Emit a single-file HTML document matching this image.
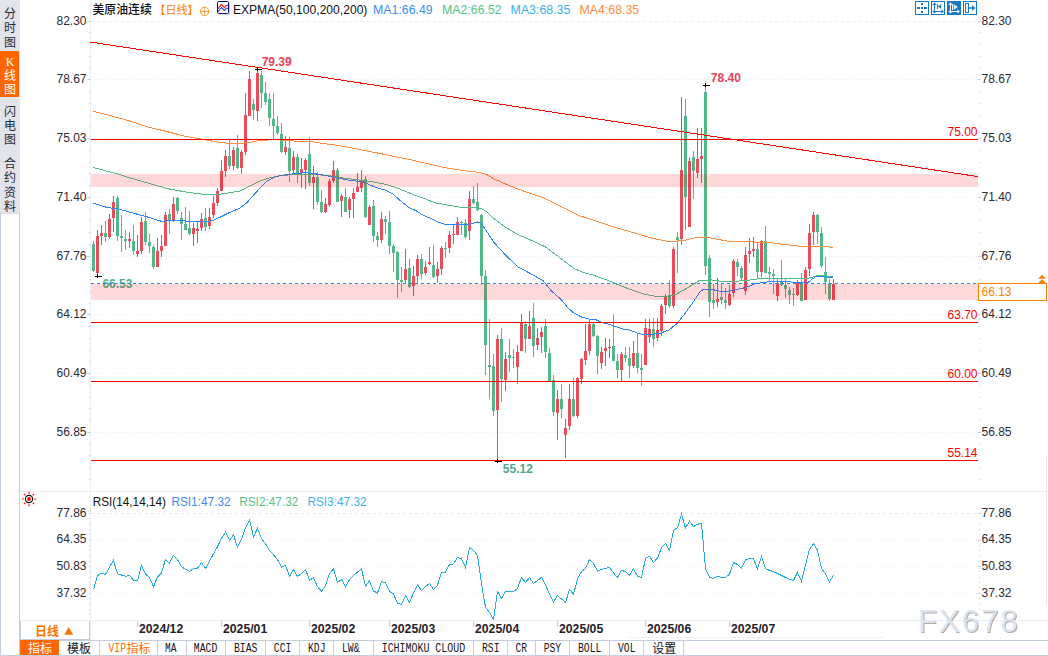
<!DOCTYPE html>
<html lang="zh"><head><meta charset="utf-8"><title>美原油连续 日线 K线图</title>
<style>
html,body{margin:0;padding:0;background:#fff}
body{width:1048px;height:656px;overflow:hidden;position:relative;font-family:"Liberation Sans",sans-serif;font-size:12px;color:#2b2b33}
#side{position:absolute;left:0;top:0;width:20px;height:213px;background:#e2e4ec}
#side .on{position:absolute;left:0;top:51px;width:19px;height:46px;background:#ff6600}
#side .sep{position:absolute;left:0;width:20px;height:1px;background:#dceaf8}
#sidebox{position:absolute;left:0;top:213px;width:18px;height:441px;border:1px solid #c3cede;border-top-color:#d8dee8;background:#fff;box-sizing:content-box}
#period{position:absolute;left:20px;top:620px;width:68px;height:18px;border:1px solid #c3cede;background:#fff;box-sizing:content-box}
#tabs{position:absolute;left:20px;top:640px;width:1028px;height:16px;border-top:1px solid #c3cede;border-bottom:1px solid #c3cede;box-sizing:border-box;background:#fff}
#tabs i{position:absolute;top:0;width:1px;height:15px;background:#c3cede}
#tabs b{position:absolute;left:0;top:-1px;width:39px;height:15px;background:#ff6600}
#chart{position:absolute;left:0;top:0}
text{font-family:"Liberation Sans",sans-serif;font-size:12px}
.ax{fill:#2b2b33}
.mono{font-family:"Liberation Mono",monospace;font-size:13px;fill:#15151c}
.bd{font-weight:bold}
.cjk{font-family:"Liberation Sans","Noto Sans CJK SC",sans-serif;font-size:12px}
</style></head><body>
<div id="side"><div class="on"></div><div class="sep" style="top:50px"></div><div class="sep" style="top:97px"></div><div class="sep" style="top:149px"></div></div>
<div id="sidebox"></div>
<div id="period"></div>
<div id="tabs"><b></b><i style="left:79px"></i><i style="left:137px"></i><i style="left:166px"></i><i style="left:205px"></i><i style="left:245px"></i><i style="left:279px"></i><i style="left:313px"></i><i style="left:353px"></i><i style="left:453px"></i><i style="left:487px"></i><i style="left:515px"></i><i style="left:549px"></i><i style="left:589px"></i><i style="left:623px"></i><i style="left:663px"></i></div>
<svg id="chart" width="1048" height="656" viewBox="0 0 1048 656">
<g shape-rendering="crispEdges" fill="none">
<path stroke="#ebeff5" d="M90.5 0V640"/>
<path stroke="#ebeff5" d="M20 491.5H1048M20 620.5H1048"/>
<path stroke="#e6ebf2" d="M1046.5 455V606"/>
<path stroke="#eef1f6" d="M629 637.5H884"/>
<path stroke="#e8ecf2" stroke-dasharray="1 2" d="M91 79.5H978M91 138.5H978M91 197.5H978M91 256.5H978M91 314.5H978M91 373.5H978M91 432.5H978"/>
<path stroke="#e8ecf2" stroke-dasharray="1 2" d="M91 539.5H978M91 566.5H978M91 593.5H978"/>
<path stroke="#e8ecf2" stroke-dasharray="3 3" d="M91 21.5H978M91 513.5H978"/>
<path stroke="#c5cedb" d="M89 32.5H90M89 44.5H90M89 56.5H90M89 68.5H90M89 91.5H90M89 103.5H90M89 115.5H90M89 126.5H90M89 150.5H90M89 162.5H90M89 173.5H90M89 185.5H90M89 209.5H90M89 220.5H90M89 232.5H90M89 244.5H90M89 267.5H90M89 279.5H90M89 291.5H90M89 303.5H90M89 326.5H90M89 338.5H90M89 350.5H90M89 361.5H90M89 385.5H90M89 397.5H90M89 408.5H90M89 420.5H90M89 444.5H90M89 455.5H90M89 467.5H90M89 479.5H90M89 518.5H90M89 523.5H90M89 529.5H90M89 534.5H90M89 545.5H90M89 550.5H90M89 555.5H90M89 561.5H90M89 571.5H90M89 577.5H90M89 582.5H90M89 587.5H90M89 598.5H90M89 603.5H90M89 609.5H90M89 614.5H90M87 21.5H90M87 79.5H90M87 138.5H90M87 197.5H90M87 256.5H90M87 314.5H90M87 373.5H90M87 432.5H90M89 513.5H90M89 540.5H90M89 566.5H90M89 593.5H90M979 32.5H980M979 44.5H980M979 56.5H980M979 68.5H980M979 91.5H980M979 103.5H980M979 115.5H980M979 126.5H980M979 150.5H980M979 162.5H980M979 173.5H980M979 185.5H980M979 209.5H980M979 220.5H980M979 232.5H980M979 244.5H980M979 267.5H980M979 279.5H980M979 291.5H980M979 303.5H980M979 326.5H980M979 338.5H980M979 350.5H980M979 361.5H980M979 385.5H980M979 397.5H980M979 408.5H980M979 420.5H980M979 444.5H980M979 455.5H980M979 467.5H980M979 479.5H980M979 518.5H980M979 523.5H980M979 529.5H980M979 534.5H980M979 545.5H980M979 550.5H980M979 555.5H980M979 561.5H980M979 571.5H980M979 577.5H980M979 582.5H980M979 587.5H980M979 598.5H980M979 603.5H980M979 609.5H980M979 614.5H980M978 21.5H981M978 79.5H981M978 138.5H981M978 197.5H981M978 256.5H981M978 314.5H981M978 373.5H981M978 432.5H981M978 513.5H981M978 540.5H981M978 566.5H981M978 593.5H981"/>
<path stroke="#c5cedb" d="M137.5 621V627M221.5 621V627M309.5 621V627M389.5 621V627M473.5 621V627M557.5 621V627M645.5 621V627M729.5 621V627"/>
</g>
<g shape-rendering="crispEdges">
<path fill="#ea4b5d" d="M96 236h3v37h-3zM97 230h1v6h-1zM97 273h1v1h-1zM100 233h3v3h-3zM101 225h1v8h-1zM101 236h1v9h-1zM108 219h3v18h-3zM109 214h1v5h-1zM109 237h1v2h-1zM112 202h3v16h-3zM113 196h1v6h-1zM113 218h1v14h-1zM128 239h3v2h-3zM129 232h1v7h-1zM129 241h1v7h-1zM136 251h3v3h-3zM137 235h1v16h-1zM137 254h1v3h-1zM140 222h3v29h-3zM141 217h1v5h-1zM141 251h1v3h-1zM156 251h3v16h-3zM157 238h1v13h-1zM160 246h3v5h-3zM161 235h1v11h-1zM161 251h1v6h-1zM164 215h3v31h-3zM165 212h1v3h-1zM172 204h3v16h-3zM173 197h1v7h-1zM173 220h1v2h-1zM192 228h3v6h-3zM193 223h1v5h-1zM193 234h1v12h-1zM196 229h3v2h-3zM197 222h1v7h-1zM197 231h1v12h-1zM200 219h3v9h-3zM201 213h1v6h-1zM201 228h1v3h-1zM208 217h3v9h-3zM209 208h1v9h-1zM209 226h1v3h-1zM212 203h3v12h-3zM213 196h1v7h-1zM213 215h1v3h-1zM216 191h3v12h-3zM217 188h1v3h-1zM217 203h1v3h-1zM220 171h3v20h-3zM221 160h1v11h-1zM224 156h3v15h-3zM225 150h1v6h-1zM225 171h1v6h-1zM232 150h3v16h-3zM233 147h1v3h-1zM233 166h1v4h-1zM240 152h3v16h-3zM241 150h1v2h-1zM241 168h1v6h-1zM244 115h3v37h-3zM245 93h1v22h-1zM245 152h1v3h-1zM248 79h3v37h-3zM249 71h1v8h-1zM256 73h3v38h-3zM257 68h1v5h-1zM257 111h1v10h-1zM284 147h3v5h-3zM285 136h1v11h-1zM285 152h1v3h-1zM292 157h3v13h-3zM293 151h1v6h-1zM293 170h1v3h-1zM300 169h3v4h-3zM301 158h1v11h-1zM301 173h1v15h-1zM304 160h3v10h-3zM305 158h1v2h-1zM305 170h1v19h-1zM312 177h3v6h-3zM313 166h1v11h-1zM313 183h1v26h-1zM324 204h3v8h-3zM325 198h1v6h-1zM325 212h1v1h-1zM328 181h3v24h-3zM329 179h1v2h-1zM329 205h1v2h-1zM332 170h3v11h-3zM333 161h1v9h-1zM333 181h1v2h-1zM340 196h3v5h-3zM341 194h1v2h-1zM341 201h1v16h-1zM348 199h3v11h-3zM349 197h1v2h-1zM349 210h1v8h-1zM352 193h3v6h-3zM353 188h1v5h-1zM353 199h1v19h-1zM356 187h3v5h-3zM357 173h1v14h-1zM360 180h3v8h-3zM361 170h1v10h-1zM361 188h1v4h-1zM368 207h3v18h-3zM369 205h1v2h-1zM380 219h3v21h-3zM381 212h1v7h-1zM381 240h1v3h-1zM404 269h3v11h-3zM405 249h1v20h-1zM405 280h1v3h-1zM412 276h3v10h-3zM413 266h1v10h-1zM413 286h1v10h-1zM416 259h3v17h-3zM417 255h1v4h-1zM417 276h1v7h-1zM424 267h3v6h-3zM425 261h1v6h-1zM425 273h1v2h-1zM428 262h3v2h-3zM429 247h1v15h-1zM429 264h1v1h-1zM436 269h3v7h-3zM437 262h1v7h-1zM437 276h1v7h-1zM440 248h3v21h-3zM441 246h1v2h-1zM441 269h1v6h-1zM448 235h3v13h-3zM449 231h1v4h-1zM449 248h1v5h-1zM452 234h3v1h-3zM453 224h1v10h-1zM453 235h1v9h-1zM456 222h3v13h-3zM457 217h1v5h-1zM468 199h3v32h-3zM469 191h1v8h-1zM469 231h1v9h-1zM496 339h3v71h-3zM497 335h1v4h-1zM497 410h1v50h-1zM504 359h3v21h-3zM505 352h1v7h-1zM505 380h1v11h-1zM516 352h3v15h-3zM517 345h1v7h-1zM517 367h1v17h-1zM520 323h3v28h-3zM521 314h1v9h-1zM528 326h3v13h-3zM529 311h1v15h-1zM536 338h3v7h-3zM537 328h1v10h-1zM537 345h1v5h-1zM540 332h3v5h-3zM541 327h1v5h-1zM541 337h1v16h-1zM556 399h3v14h-3zM557 390h1v9h-1zM557 413h1v27h-1zM564 428h3v7h-3zM565 419h1v9h-1zM565 435h1v23h-1zM568 399h3v27h-3zM569 384h1v15h-1zM569 426h1v4h-1zM576 378h3v38h-3zM577 377h1v1h-1zM577 416h1v2h-1zM580 359h3v20h-3zM581 358h1v1h-1zM581 379h1v5h-1zM584 351h3v9h-3zM585 324h1v27h-1zM585 360h1v5h-1zM588 324h3v27h-3zM589 319h1v5h-1zM589 351h1v4h-1zM600 352h3v11h-3zM601 347h1v5h-1zM601 363h1v6h-1zM604 348h3v3h-3zM605 338h1v10h-1zM605 351h1v15h-1zM608 347h3v1h-3zM609 339h1v8h-1zM609 348h1v10h-1zM620 354h3v16h-3zM621 352h1v2h-1zM621 370h1v11h-1zM632 353h3v13h-3zM633 341h1v12h-1zM633 366h1v2h-1zM644 328h3v37h-3zM645 319h1v9h-1zM648 329h3v8h-3zM649 319h1v10h-1zM649 337h1v6h-1zM656 330h3v8h-3zM657 318h1v12h-1zM657 338h1v3h-1zM660 306h3v25h-3zM661 304h1v2h-1zM661 331h1v5h-1zM664 297h3v8h-3zM665 294h1v3h-1zM665 305h1v9h-1zM672 249h3v57h-3zM673 247h1v2h-1zM673 306h1v2h-1zM680 170h3v69h-3zM681 97h1v73h-1zM681 239h1v6h-1zM688 161h3v66h-3zM689 157h1v4h-1zM696 159h3v14h-3zM697 128h1v31h-1zM697 173h1v5h-1zM700 156h3v3h-3zM701 128h1v28h-1zM701 159h1v24h-1zM716 299h3v3h-3zM717 278h1v21h-1zM717 302h1v5h-1zM728 294h3v11h-3zM729 285h1v9h-1zM729 305h1v1h-1zM732 261h3v32h-3zM733 259h1v2h-1zM733 293h1v4h-1zM744 255h3v36h-3zM745 247h1v8h-1zM745 291h1v4h-1zM748 251h3v3h-3zM749 238h1v13h-1zM749 254h1v9h-1zM752 249h3v2h-3zM753 237h1v12h-1zM753 251h1v6h-1zM760 241h3v31h-3zM761 240h1v1h-1zM761 272h1v5h-1zM776 283h3v13h-3zM777 279h1v4h-1zM777 296h1v5h-1zM796 283h3v12h-3zM797 280h1v3h-1zM797 295h1v1h-1zM804 270h3v30h-3zM805 267h1v3h-1zM808 233h3v36h-3zM809 224h1v9h-1zM809 269h1v7h-1zM812 215h3v17h-3zM813 212h1v3h-1zM813 232h1v13h-1zM832 284h3v16h-3zM833 279h1v5h-1z"/>
<path fill="#53b889" d="M92 244h3v27h-3zM93 241h1v3h-1zM93 271h1v1h-1zM104 233h3v4h-3zM105 221h1v12h-1zM105 237h1v5h-1zM116 198h3v38h-3zM117 196h1v2h-1zM117 236h1v5h-1zM120 236h3v2h-3zM121 215h1v21h-1zM121 238h1v14h-1zM124 239h3v2h-3zM125 230h1v9h-1zM125 241h1v9h-1zM132 241h3v10h-3zM133 225h1v16h-1zM133 251h1v4h-1zM144 221h3v21h-3zM145 212h1v9h-1zM145 242h1v3h-1zM148 242h3v4h-3zM149 234h1v8h-1zM149 246h1v7h-1zM152 247h3v20h-3zM153 245h1v2h-1zM153 267h1v2h-1zM168 214h3v7h-3zM169 209h1v5h-1zM169 221h1v13h-1zM176 198h3v13h-3zM177 197h1v1h-1zM177 211h1v3h-1zM180 218h3v6h-3zM181 212h1v6h-1zM181 224h1v16h-1zM184 224h3v6h-3zM185 207h1v17h-1zM188 228h3v6h-3zM189 211h1v17h-1zM189 234h1v1h-1zM204 218h3v9h-3zM205 208h1v10h-1zM205 227h1v4h-1zM228 156h3v10h-3zM229 140h1v16h-1zM229 166h1v3h-1zM236 148h3v20h-3zM237 135h1v13h-1zM237 168h1v1h-1zM252 104h3v6h-3zM253 99h1v5h-1zM253 110h1v10h-1zM260 75h3v18h-3zM261 71h1v4h-1zM261 93h1v15h-1zM264 93h3v9h-3zM265 82h1v11h-1zM265 102h1v3h-1zM268 99h3v19h-3zM269 93h1v6h-1zM269 118h1v8h-1zM272 119h3v7h-3zM273 93h1v26h-1zM273 126h1v13h-1zM276 126h3v7h-3zM277 116h1v10h-1zM277 133h1v2h-1zM280 134h3v18h-3zM281 123h1v11h-1zM281 152h1v1h-1zM288 148h3v23h-3zM289 137h1v11h-1zM289 171h1v11h-1zM296 157h3v17h-3zM297 154h1v3h-1zM297 174h1v9h-1zM308 154h3v29h-3zM309 137h1v17h-1zM309 183h1v3h-1zM316 177h3v25h-3zM317 172h1v5h-1zM317 202h1v3h-1zM320 202h3v10h-3zM321 190h1v12h-1zM321 212h1v1h-1zM336 170h3v32h-3zM337 168h1v2h-1zM344 197h3v15h-3zM345 188h1v9h-1zM364 179h3v38h-3zM365 176h1v3h-1zM365 217h1v1h-1zM372 206h3v30h-3zM373 200h1v6h-1zM373 236h1v6h-1zM376 236h3v4h-3zM377 232h1v4h-1zM377 240h1v7h-1zM384 219h3v3h-3zM385 216h1v3h-1zM385 222h1v12h-1zM388 222h3v24h-3zM389 211h1v11h-1zM389 246h1v8h-1zM392 246h3v7h-3zM393 244h1v2h-1zM393 253h1v19h-1zM396 252h3v28h-3zM397 251h1v1h-1zM397 280h1v18h-1zM400 280h3v2h-3zM401 267h1v13h-1zM401 282h1v10h-1zM408 268h3v19h-3zM409 259h1v9h-1zM409 287h1v1h-1zM420 259h3v15h-3zM421 254h1v5h-1zM421 274h1v5h-1zM432 265h3v12h-3zM433 245h1v20h-1zM433 277h1v1h-1zM444 248h3v1h-3zM445 242h1v6h-1zM445 249h1v9h-1zM460 222h3v1h-3zM461 221h1v1h-1zM461 223h1v12h-1zM464 223h3v14h-3zM465 219h1v4h-1zM465 237h1v2h-1zM472 199h3v4h-3zM473 186h1v13h-1zM473 203h1v1h-1zM476 202h3v8h-3zM477 183h1v19h-1zM477 210h1v1h-1zM480 215h3v61h-3zM481 214h1v1h-1zM481 276h1v9h-1zM484 276h3v69h-3zM485 270h1v6h-1zM485 345h1v30h-1zM488 365h3v2h-3zM489 319h1v46h-1zM489 367h1v32h-1zM492 366h3v45h-3zM493 354h1v12h-1zM493 411h1v5h-1zM500 339h3v40h-3zM501 328h1v11h-1zM501 379h1v23h-1zM508 355h3v3h-3zM509 339h1v16h-1zM509 358h1v14h-1zM512 357h3v1h-3zM513 349h1v8h-1zM513 358h1v10h-1zM524 324h3v15h-3zM525 321h1v3h-1zM525 339h1v14h-1zM532 318h3v28h-3zM533 303h1v15h-1zM533 346h1v11h-1zM544 326h3v26h-3zM545 319h1v7h-1zM545 352h1v6h-1zM548 353h3v28h-3zM549 348h1v5h-1zM552 380h3v32h-3zM553 375h1v5h-1zM553 412h1v4h-1zM560 399h3v10h-3zM561 384h1v15h-1zM561 409h1v9h-1zM572 399h3v17h-3zM573 378h1v21h-1zM573 416h1v1h-1zM592 324h3v12h-3zM593 322h1v2h-1zM593 336h1v1h-1zM596 336h3v20h-3zM597 335h1v1h-1zM597 356h1v18h-1zM612 346h3v15h-3zM613 314h1v32h-1zM616 361h3v9h-3zM617 354h1v7h-1zM617 370h1v8h-1zM624 355h3v3h-3zM625 347h1v8h-1zM625 358h1v4h-1zM628 358h3v8h-3zM629 347h1v11h-1zM629 366h1v12h-1zM636 353h3v15h-3zM637 333h1v20h-1zM637 368h1v5h-1zM640 368h3v2h-3zM641 354h1v14h-1zM641 370h1v16h-1zM652 329h3v10h-3zM653 318h1v11h-1zM653 339h1v8h-1zM668 295h3v11h-3zM669 280h1v15h-1zM669 306h1v2h-1zM676 237h3v3h-3zM677 232h1v5h-1zM677 240h1v33h-1zM684 116h3v81h-3zM685 99h1v17h-1zM685 197h1v33h-1zM692 157h3v14h-3zM693 151h1v6h-1zM693 171h1v28h-1zM704 92h3v174h-3zM705 86h1v6h-1zM705 266h1v9h-1zM708 258h3v44h-3zM709 255h1v3h-1zM709 302h1v15h-1zM712 300h3v3h-3zM713 284h1v16h-1zM713 303h1v6h-1zM720 297h3v3h-3zM721 284h1v13h-1zM721 300h1v4h-1zM724 300h3v3h-3zM725 288h1v12h-1zM725 303h1v6h-1zM736 262h3v5h-3zM737 259h1v3h-1zM737 267h1v9h-1zM740 268h3v10h-3zM741 266h1v2h-1zM741 278h1v3h-1zM756 249h3v23h-3zM757 243h1v6h-1zM757 272h1v6h-1zM764 241h3v32h-3zM765 226h1v15h-1zM768 272h3v2h-3zM769 267h1v5h-1zM769 274h1v7h-1zM772 274h3v2h-3zM773 269h1v5h-1zM773 276h1v18h-1zM780 282h3v3h-3zM781 260h1v22h-1zM781 285h1v1h-1zM784 285h3v4h-3zM785 278h1v7h-1zM785 289h1v9h-1zM788 290h3v5h-3zM789 287h1v3h-1zM789 295h1v9h-1zM792 294h3v1h-3zM793 288h1v6h-1zM793 295h1v11h-1zM800 283h3v18h-3zM801 273h1v10h-1zM816 215h3v17h-3zM817 214h1v1h-1zM817 232h1v12h-1zM820 233h3v33h-3zM821 227h1v6h-1zM821 266h1v2h-1zM824 272h3v10h-3zM825 257h1v15h-1zM825 282h1v12h-1zM828 283h3v16h-3zM829 279h1v4h-1zM829 299h1v2h-1z"/>
</g>
<g shape-rendering="crispEdges">
<polyline fill="none" stroke="#ff8c3c" stroke-width="1" points="93,111.3 107.8,114.9 127.7,120.4 147.5,126.8 167.3,131.7 187.1,136.7 199,138.7 216.9,142 228.2,143.3 246.5,143 258.7,140.7 275.5,139.5 290,140.6 297,141.4 312,141.6 319.8,143 335,145 350,147.6 380,153.5 411.8,160 431.6,164.6 446.9,168 462.1,170.4 477.4,172.2 486.6,174.5 493.9,178.9 509.7,185.9 525.6,191.8 543.4,197.8 559.3,205.7 579.1,215.6 599,221.9 618.8,228.5 635.3,233.2 650.5,237.8 665.8,241 678,241 687.2,239.8 696.3,237.3 707,237.3 717.7,239.3 729.9,241.6 749.8,241.9 770.5,242.7 785.8,244.7 801,246.3 816.3,246.3 827,246.6 833,247.6"/>
<polyline fill="none" stroke="#4fbd84" stroke-width="1" points="93,167.4 107.8,171.4 117.7,173.8 127.7,177.3 147.5,182.9 167.3,188.6 187.1,192.2 207,194.8 216.9,194.6 228.2,193 240.4,191 251,185.7 260.2,181 269.4,178 281.6,175.3 296.9,174.6 312.1,174.3 327.4,175.5 342.7,178 355.3,179.5 370.5,181.4 385.8,184.4 395,187.2 405.6,191.3 416.3,195.9 425.5,198.9 434.7,202.7 446.9,205 459.1,207 469.8,207.6 477.4,207.8 482,208.9 486.6,211.9 493.9,218.6 505.8,227.5 517.7,234.4 531.5,240.4 545.4,246.9 559.3,257.2 573.2,268.1 583.1,272.5 593,275.1 606.9,280 618.8,285 630.7,289.6 642.9,293.7 656.6,296.5 665.8,296.5 676.5,294.2 685.6,288.9 693.3,284.3 699.4,280.5 711.6,280 726.9,282 739.1,281 749.8,280 760.5,278.5 772.7,278.2 785.8,278.3 801,279 808.7,278.2 816.3,275.9 825.5,275.9 833,276.8"/>
<polyline fill="none" stroke="#2b85f5" stroke-width="1" points="93,203.1 107.8,207.7 117.7,208.6 127.7,211.6 147.5,217 161.4,221.3 173.2,220.5 191.1,221.3 205.3,221.6 212.9,220.5 220.5,217 229.7,212.4 238.9,208.6 246.5,203 251,198 258.7,189.5 266.3,181.6 274,177.3 281.6,175.3 289.2,174.3 296.9,173.5 306,172.7 315.2,173.8 327.4,175.8 342.7,178.9 349.2,180.3 362.9,181.7 370.5,185.2 378.2,188.2 385.8,190.2 393.4,194.4 401,201.2 408.7,207.3 416.3,210.8 424,215.7 431.6,218.8 439.2,222.6 445.3,224.4 454.5,224.6 469.8,224 477.4,222 480.5,223.4 485,228.7 493.9,242.4 505.8,255.3 517.7,266.7 529.6,273.1 543.4,281 551.4,290.9 561.6,300 567.7,307.6 573.8,313 581.5,317 589,319 595.2,319.3 599.8,321.6 607.4,323.9 615,326.3 622.7,329 629.2,330 639.8,333.9 650.5,334.7 659.7,333.4 668.9,330 676.5,324 684.1,314.8 691.8,304 699.4,292.7 703.2,289.3 711.6,289.3 720.8,291.5 729.9,291 739.1,289 746.7,287.3 754.4,284 762,282.7 769.6,281.7 785.8,281.7 798,282.4 807.2,283.2 811.8,279.4 816.3,276.3 825.5,276.8 833,277.9"/>
<polyline fill="none" stroke="#29abe2" stroke-width="1" points="93.5,589.4 97.5,575.5 101.5,573.3 105.5,574.6 109.5,567 113.5,560.4 117.5,573.8 121.5,575 125.5,576.3 129.5,575.5 133.5,580.2 137.5,580.5 141.5,565.4 145.5,574 149.5,577.5 153.5,586.7 157.5,577 161.5,573 165.5,559.5 169.5,563.2 173.5,555.3 177.5,559.5 181.5,566.7 185.5,569.3 189.5,571.3 193.5,568.8 197.5,568.4 201.5,562.6 205.5,568.4 209.5,561.2 213.5,553.7 217.5,546.6 221.5,538.2 225.5,532.3 229.5,540.2 233.5,534.7 237.5,547.3 241.5,539.4 245.5,527.7 249.5,519.8 253.5,536.9 257.5,528.5 261.5,538.6 265.5,543.6 269.5,550.8 273.5,554.8 277.5,559.5 281.5,567 285.5,565.4 289.5,576.3 293.5,569.6 297.5,576.3 301.5,573.8 305.5,569.6 309.5,580 313.5,578 317.5,586.7 321.5,591.4 325.5,585.5 329.5,573.8 333.5,568.8 337.5,582.2 341.5,579.7 345.5,586.7 349.5,579.7 353.5,575.5 357.5,572 361.5,568.8 365.5,586.4 369.5,580.8 373.5,591 377.5,593 381.5,581.7 385.5,582.5 389.5,591.4 393.5,593.9 397.5,603.2 401.5,604.5 405.5,595.6 409.5,602.3 413.5,593 417.5,584.7 421.5,590.6 425.5,586.4 429.5,583.4 433.5,589.4 437.5,585.2 441.5,572.6 445.5,572 449.5,564.6 453.5,564 457.5,557.5 461.5,558.7 465.5,567.4 469.5,547.4 473.5,550.3 477.5,555.3 481.5,583.9 485.5,607.3 489.5,612.4 493.5,619.3 497.5,591.5 501.5,598.5 505.5,591.4 509.5,591.4 513.5,591.4 517.5,588.4 521.5,577.5 525.5,582.5 529.5,577.5 533.5,583.4 537.5,580.5 541.5,577.3 545.5,585.3 549.5,593.8 553.5,601.8 557.5,595.6 561.5,599 565.5,602.3 569.5,589.4 573.5,594.4 577.5,578.8 581.5,571.6 585.5,568.4 589.5,559.5 593.5,563.4 597.5,571.3 601.5,569.3 605.5,568.4 609.5,567.4 613.5,573 617.5,577.5 621.5,570.4 625.5,571.6 629.5,575.5 633.5,568.8 637.5,576.3 641.5,577.5 645.5,558.4 649.5,556.2 653.5,562.6 657.5,557.9 661.5,547.8 665.5,543.3 669.5,550.3 673.5,530.5 677.5,527.7 681.5,514.2 685.5,528.2 689.5,521.3 693.5,526.5 697.5,524.3 701.5,523.1 705.5,568.8 709.5,577.1 713.5,578.5 717.5,576.3 721.5,577.5 725.5,577.5 729.5,574.1 733.5,562.4 737.5,564.6 741.5,568.4 745.5,560 749.5,558.4 753.5,558.7 757.5,568.8 761.5,556.5 765.5,568.8 769.5,570.4 773.5,571.6 777.5,573.5 781.5,575.5 785.5,577.5 789.5,579.3 793.5,580.5 797.5,572.6 801.5,581.3 805.5,565.4 809.5,549.5 813.5,543.6 817.5,550.3 821.5,568.4 825.5,573.8 829.5,581.7 833.5,575.5"/>
</g>
<text class="bd" x="102.4" y="287.7" style="fill:#4fae8c;">66.53</text>
<rect x="91" y="174" width="887" height="13" fill="#ff0000" fill-opacity=".15"/>
<rect x="91" y="284" width="887" height="16" fill="#ff0000" fill-opacity=".15"/>
<path shape-rendering="crispEdges" stroke="#1e86f5" stroke-dasharray="3 3" d="M91 283.5H978"/>
<g shape-rendering="crispEdges" stroke="#ff0000" fill="none">
<path d="M91 139.5H978M91 322.5H978M91 381.5H978M91 460.5H978"/>
<path d="M90 42L978 176.6"/>
</g>
<path shape-rendering="crispEdges" stroke="#000" fill="none" d="M95 276.5H102M97.5 274V278 M255 69.5H262M257.5 67V71 M703 85.5H710M705.5 83V87 M495 461.5H502M497.5 459V463"/>
<rect x="978.5" y="283.5" width="68" height="17" fill="#fff" stroke="#ff8000"/>
<path fill="#ff8000" d="M1042 274.8l-4 3.9h8zM1042 279.2l-4.4 4.3h8.8z"/>
<text class="ax" x="86.5" y="25" text-anchor="end">82.30</text>
<text class="ax" x="981.5" y="25">82.30</text>
<text class="ax" x="86.5" y="83" text-anchor="end">78.67</text>
<text class="ax" x="981.5" y="83">78.67</text>
<text class="ax" x="86.5" y="142" text-anchor="end">75.03</text>
<text class="ax" x="981.5" y="142">75.03</text>
<text class="ax" x="86.5" y="201" text-anchor="end">71.40</text>
<text class="ax" x="981.5" y="201">71.40</text>
<text class="ax" x="86.5" y="260" text-anchor="end">67.76</text>
<text class="ax" x="981.5" y="260">67.76</text>
<text class="ax" x="86.5" y="318.2" text-anchor="end">64.12</text>
<text class="ax" x="981.5" y="318.2">64.12</text>
<text class="ax" x="86.5" y="377.4" text-anchor="end">60.49</text>
<text class="ax" x="981.5" y="377.4">60.49</text>
<text class="ax" x="86.5" y="436" text-anchor="end">56.85</text>
<text class="ax" x="981.5" y="436">56.85</text>
<text class="ax" x="86.5" y="517" text-anchor="end">77.86</text>
<text class="ax" x="981.5" y="517">77.86</text>
<text class="ax" x="86.5" y="543" text-anchor="end">64.35</text>
<text class="ax" x="981.5" y="543">64.35</text>
<text class="ax" x="86.5" y="570" text-anchor="end">50.83</text>
<text class="ax" x="981.5" y="570">50.83</text>
<text class="ax" x="86.5" y="597" text-anchor="end">37.32</text>
<text class="ax" x="981.5" y="597">37.32</text>
<text class="ax" x="977.5" y="135.7" text-anchor="end" style="fill:#ff0000;">75.00</text>
<text class="ax" x="977.5" y="318.8" text-anchor="end" style="fill:#ff0000;">63.70</text>
<text class="ax" x="977.5" y="378" text-anchor="end" style="fill:#ff0000;">60.00</text>
<text class="ax" x="977.5" y="457" text-anchor="end" style="fill:#ff0000;">55.14</text>
<text class="ax" x="981.5" y="296" style="fill:#ff8000;">66.13</text>
<text class="bd" x="261.7" y="66" style="fill:#e8405a;">79.39</text>
<text class="bd" x="710.8" y="81.8" style="fill:#e8405a;">78.40</text>
<text class="bd" x="502.8" y="473" style="fill:#4faa8a;">55.12</text>
<text class="bd" x="139" y="633" textLength="44.2" lengthAdjust="spacingAndGlyphs" style="fill:#22222c;">2024/12</text>
<text class="bd" x="223" y="633" textLength="44.2" lengthAdjust="spacingAndGlyphs" style="fill:#22222c;">2025/01</text>
<text class="bd" x="311" y="633" textLength="44.2" lengthAdjust="spacingAndGlyphs" style="fill:#22222c;">2025/02</text>
<text class="bd" x="391" y="633" textLength="44.2" lengthAdjust="spacingAndGlyphs" style="fill:#22222c;">2025/03</text>
<text class="bd" x="475" y="633" textLength="44.2" lengthAdjust="spacingAndGlyphs" style="fill:#22222c;">2025/04</text>
<text class="bd" x="559" y="633" textLength="44.2" lengthAdjust="spacingAndGlyphs" style="fill:#22222c;">2025/05</text>
<text class="bd" x="647" y="633" textLength="44.2" lengthAdjust="spacingAndGlyphs" style="fill:#22222c;">2025/06</text>
<text class="bd" x="731" y="633" textLength="44.2" lengthAdjust="spacingAndGlyphs" style="fill:#22222c;">2025/07</text>
<text class="ax" x="232.9" y="13.7" textLength="134.5" lengthAdjust="spacingAndGlyphs" style="fill:#111;font-size:13px;">EXPMA(50,100,200,200)</text>
<text class="ax" x="373" y="13.7" textLength="59.7" lengthAdjust="spacingAndGlyphs" style="fill:#3a8cf5;font-size:13px;">MA1:66.49</text>
<text class="ax" x="442" y="13.7" textLength="59.7" lengthAdjust="spacingAndGlyphs" style="fill:#54c488;font-size:13px;">MA2:66.52</text>
<text class="ax" x="510.6" y="13.7" textLength="59.7" lengthAdjust="spacingAndGlyphs" style="fill:#3cb0ee;font-size:13px;">MA3:68.35</text>
<text class="ax" x="579.5" y="13.7" textLength="59.7" lengthAdjust="spacingAndGlyphs" style="fill:#ff8c46;font-size:13px;">MA4:68.35</text>
<text class="ax" x="92.7" y="505.7" textLength="73.3" lengthAdjust="spacingAndGlyphs" style="fill:#111;font-size:13px;">RSI(14,14,14)</text>
<text class="ax" x="171.4" y="505.7" textLength="59.2" lengthAdjust="spacingAndGlyphs" style="fill:#3a8cf5;font-size:13px;">RSI1:47.32</text>
<text class="ax" x="239.2" y="505.7" textLength="59.2" lengthAdjust="spacingAndGlyphs" style="fill:#54c488;font-size:13px;">RSI2:47.32</text>
<text class="ax" x="307.4" y="505.7" textLength="59.2" lengthAdjust="spacingAndGlyphs" style="fill:#3cb0ee;font-size:13px;">RSI3:47.32</text>
<text class="mono" x="165" y="652" textLength="11.5" lengthAdjust="spacingAndGlyphs">MA</text>
<text class="mono" x="193.8" y="652" textLength="23.5" lengthAdjust="spacingAndGlyphs">MACD</text>
<text class="mono" x="234" y="652" textLength="23.5" lengthAdjust="spacingAndGlyphs">BIAS</text>
<text class="mono" x="273.8" y="652" textLength="17.5" lengthAdjust="spacingAndGlyphs">CCI</text>
<text class="mono" x="308" y="652" textLength="17.5" lengthAdjust="spacingAndGlyphs">KDJ</text>
<text class="mono" x="342" y="652" textLength="17.5" lengthAdjust="spacingAndGlyphs">LW&amp;</text>
<text class="mono" x="381.7" y="652" textLength="83.5" lengthAdjust="spacingAndGlyphs">ICHIMOKU CLOUD</text>
<text class="mono" x="482" y="652" textLength="17.5" lengthAdjust="spacingAndGlyphs">RSI</text>
<text class="mono" x="515.5" y="652" textLength="11.5" lengthAdjust="spacingAndGlyphs">CR</text>
<text class="mono" x="543.7" y="652" textLength="17.5" lengthAdjust="spacingAndGlyphs">PSY</text>
<text class="mono" x="578" y="652" textLength="23.5" lengthAdjust="spacingAndGlyphs">BOLL</text>
<text class="mono" x="618" y="652" textLength="17.5" lengthAdjust="spacingAndGlyphs">VOL</text>
<text class="mono" x="108.5" y="652" textLength="17.5" lengthAdjust="spacingAndGlyphs" style="fill:#ff6a00;">VIP</text>
<text x="10" y="66" text-anchor="middle" style="font-family:'Liberation Serif',serif;font-size:12px;fill:#fff">K</text>
<text x="918" y="631.5" style="font-size:31px;fill:#d9e5f5;letter-spacing:2.1px;filter:drop-shadow(1px 1px 0 #bba99d)">FX678</text>
<g>
<text class="cjk" x="10" y="17.6" text-anchor="middle" fill="#1e2a3a">分</text>
<text class="cjk" x="10" y="32" text-anchor="middle" fill="#1e2a3a">时</text>
<text class="cjk" x="10" y="46.5" text-anchor="middle" fill="#1e2a3a">图</text>
<text class="cjk" x="10" y="79.9" text-anchor="middle" fill="#fff">线</text>
<text class="cjk" x="10" y="93.9" text-anchor="middle" fill="#fff">图</text>
<text class="cjk" x="10" y="115.5" text-anchor="middle" fill="#1e2a3a">闪</text>
<text class="cjk" x="10" y="129.8" text-anchor="middle" fill="#1e2a3a">电</text>
<text class="cjk" x="10" y="144.4" text-anchor="middle" fill="#1e2a3a">图</text>
<text class="cjk" x="10" y="167.9" text-anchor="middle" fill="#1e2a3a">合</text>
<text class="cjk" x="10" y="182.4" text-anchor="middle" fill="#1e2a3a">约</text>
<text class="cjk" x="10" y="197" text-anchor="middle" fill="#1e2a3a">资</text>
<text class="cjk" x="10" y="211" text-anchor="middle" fill="#1e2a3a">料</text>
<text class="cjk" x="92.5" y="14" textLength="59.3" lengthAdjust="spacingAndGlyphs" style="fill:#111;font-weight:500">美原油连续</text>
<text class="cjk" x="154.5" y="14" style="fill:#ff7f00;font-size:11px">【日线】</text>
<text class="cjk bd" x="35" y="636" style="fill:#ff7300">日线</text>
<text class="cjk" x="28" y="652.5" style="fill:#fff">指标</text>
<text class="cjk" x="67" y="652.5" style="fill:#15151c">模板</text>
<text class="cjk" x="126.6" y="652.5" style="fill:#ff6a00">指标</text>
<text class="cjk" x="652.2" y="652.5" style="fill:#15151c">设置</text>
</g>
<path fill="#ff7300" d="M68.7 627l4.4 7.8h-8.8z"/>
<g fill="none" stroke="#ff8a14" stroke-width=".9"><circle cx="204.6" cy="11.4" r="4.2"/><path d="M200.4 11.4h8.4"/><path stroke-opacity=".7" d="M204.6 7.2v8.4"/></g>
<g fill="none"><rect x="217.5" y="1.5" width="11" height="12" rx="1.2" fill="#fff" stroke="#00008b"/><path stroke="#9a9a9a" stroke-width=".6" d="M229.4 3v11.2h-10.5"/><polyline stroke="#f01818" stroke-width="1.1" points="218,8.6 221.4,4.3 224.4,7.6 226.5,5.3 228,5.3"/><polyline stroke="#1a3cf0" stroke-width="1.1" points="218,11.6 221.4,7.5 224.4,10.5 226.5,8.2 228,8.2"/></g>
<g><circle cx="29" cy="499" r="3.6" fill="#fff" stroke="#000" stroke-width="1.1"/><circle cx="29" cy="499" r="1.9" fill="#f00"/><path stroke="#f00" stroke-width="1.2" fill="none" d="M29 491.8v2M29 504.2v2M21.8 499h2M34.2 499h2M23.9 493.9l1.4 1.4M32.7 502.7l1.4 1.4M34.1 493.9l-1.4 1.4M25.3 502.7l-1.4 1.4"/></g>
<g shape-rendering="crispEdges">
<rect x="915.5" y="1.5" width="13" height="13" fill="#fff" stroke="#1878c8"/>
<path fill="#1878c8" d="M921 3h2v2h-2zM921 7h2v2h-2zM921 11h2v2h-2zM917 7h3v2h-3zM924 7h3v2h-3z"/>
<rect x="931.5" y="1.5" width="13" height="13" fill="#fff" stroke="#1878c8"/>
<rect x="947" y="1" width="14" height="14" fill="#1878c8"/>
<rect x="963.5" y="1.5" width="13" height="13" fill="#fff" stroke="#1878c8"/>
</g>
<g fill="#1878c8"><path shape-rendering="crispEdges" d="M934 3h1v9h-1zM934 11h9v1h-9z"/><path d="M934.5 2.2l2.1 2.9h-4.2zM934.5 13.6l-2.1-2.4h4.2zM944 11.5l-2.6 2.1v-4.2zM932.4 11.5l2.4-2.1v4.2z"/></g>
<g fill="#1878c8"><path shape-rendering="crispEdges" d="M937 4h1v5h-1z"/><path d="M941.2 4v5l-3.2-2.5z"/></g>
<g fill="#fff"><path shape-rendering="crispEdges" d="M950 3h1v9h-1zM950 11h9v1h-9z"/><path d="M950.5 2.2l2.1 2.9h-4.2zM950.5 13.6l-2.1-2.4h4.2zM960 11.5l-2.6 2.1v-4.2zM948.4 11.5l2.4-2.1v4.2z"/></g>
<g fill="#fff"><path shape-rendering="crispEdges" d="M952 4h1v6h-1z"/><path fill-opacity=".85" d="M953.6 4l4.3 3-4.3 3z"/></g>
<g fill="none" stroke="#1878c8"><rect x="965.5" y="3.5" width="3" height="9" shape-rendering="crispEdges"/></g><path fill="#1878c8" d="M968 7.2h4v-2l3.5 2.8-3.5 2.8v-2h-4z"/>
</svg>
</body></html>
